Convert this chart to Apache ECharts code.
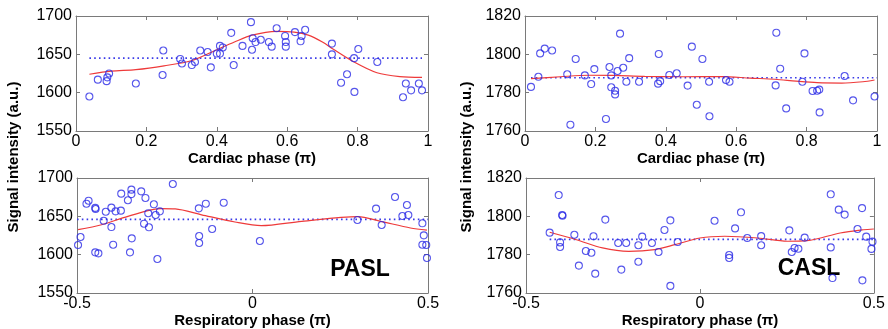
<!DOCTYPE html>
<html>
<head>
<meta charset="utf-8">
<script src="https://cdn.jsdelivr.net/npm/echarts@6/dist/echarts.min.js"></script>
<style>html,body{margin:0;padding:0;background:#fff;}#c{width:888px;height:329px;}</style>
</head>
<body>
<div id="c"></div>
<script>
// ---- Data ----
const cardiacTicks = [0, 0.2, 0.4, 0.6, 0.8, 1];
const respTicks = [-0.5, 0, 0.5];

// PASL cardiac
const paslCardX = [0.038,0.062,0.087,0.089,0.094,0.170,0.246,0.248,0.296,0.301,0.329,0.338,0.353,0.374,0.383,0.400,0.409,0.409,0.417,0.441,0.448,0.473,0.497,0.500,0.502,0.510,0.525,0.548,0.556,0.570,0.594,0.596,0.596,0.622,0.638,0.641,0.651,0.727,0.727,0.753,0.770,0.790,0.791,0.802,0.856,0.929,0.937,0.952,0.974,0.983];
const paslCardY = [1595,1617,1615,1620,1625,1612,1623,1655,1644,1638,1636,1640,1655,1653,1633,1651,1651,1661,1659,1678,1636,1661,1692,1656,1671,1666,1669,1666,1660,1684,1674,1666,1660,1679,1667,1674,1682,1664,1650,1613,1624,1645,1601,1657,1640,1594,1612,1603,1612,1603];
const paslCardFitX = [0.038,0.10,0.17,0.25,0.33,0.40,0.45,0.50,0.57,0.62,0.66,0.70,0.73,0.79,0.855,0.92,0.983];
const paslCardFitY = [1624,1628,1630,1635,1642,1656,1666,1675,1680,1679,1675,1666,1657,1640,1626,1621,1620];
const paslCardMeanX = [0.038, 0.983];
const paslCardMeanY = [1645, 1645];

// CASL cardiac
const caslCardX = [0.017,0.038,0.043,0.056,0.077,0.120,0.129,0.144,0.170,0.188,0.197,0.230,0.240,0.245,0.245,0.256,0.256,0.263,0.270,0.279,0.288,0.296,0.324,0.378,0.380,0.384,0.410,0.431,0.462,0.474,0.488,0.504,0.523,0.524,0.571,0.581,0.712,0.714,0.725,0.742,0.788,0.794,0.817,0.830,0.836,0.837,0.908,0.932,0.993];
const caslCardY = [1783,1788.3,1800.5,1803,1802,1789.6,1763.3,1797.6,1789,1784.5,1792.3,1766.3,1793.4,1789,1782.8,1781,1779.1,1791.3,1810.8,1793,1785.7,1798,1785.7,1784.7,1800.2,1786,1789.2,1790.1,1783.7,1804,1773.7,1797.6,1785.7,1767.7,1786.6,1785.7,1783.8,1811.3,1792.5,1771.8,1785.7,1800.5,1780.9,1781,1781.6,1769.7,1788.7,1776,1778];
const caslCardFitX = [0.017,0.10,0.18,0.25,0.34,0.45,0.56,0.64,0.71,0.77,0.83,0.90,0.96,0.993];
const caslCardFitY = [1787.3,1788.3,1789.1,1789.0,1788.5,1788.3,1788.4,1787.6,1787.0,1786.0,1785.2,1785.0,1785.7,1786.6];
const caslCardMeanX = [0.017, 1.0];
const caslCardMeanY = [1787.8, 1787.8];

// PASL respiratory
const paslRespX = [-0.497,-0.490,-0.473,-0.467,-0.448,-0.447,-0.448,-0.439,-0.424,-0.418,-0.402,-0.402,-0.397,-0.390,-0.375,-0.374,-0.355,-0.349,-0.345,-0.345,-0.344,-0.317,-0.309,-0.305,-0.297,-0.295,-0.281,-0.276,-0.271,-0.264,-0.227,-0.153,-0.152,-0.152,-0.133,-0.115,-0.082,0.021,0.299,0.352,0.368,0.406,0.427,0.440,0.444,0.484,0.488,0.484,0.495,0.497];
const paslRespY = [1612.6,1623,1666.5,1670.4,1661,1659.6,1603,1601.7,1644.3,1656,1661.3,1636,1613,1656.5,1657.4,1679.6,1671,1603,1684.8,1679,1621.3,1682.6,1640.4,1674,1654,1635.7,1665.7,1651.7,1594.3,1656.5,1692.2,1660.4,1624.3,1615.2,1666.5,1633.5,1667.8,1617.8,1645.2,1660,1638.7,1675.2,1650.4,1664.8,1651.7,1640.9,1625.2,1613,1612.6,1595.7];
const paslRespFitX = [-0.497,-0.430,-0.355,-0.260,-0.220,-0.145,-0.050,0.025,0.140,0.300,0.365,0.450,0.497];
const paslRespFitY = [1632.6,1639,1650,1660,1659.6,1652,1642.6,1637.8,1643.5,1649.5,1643.5,1634.8,1632];
const paslRespMeanX = [-0.5, 0.5];
const paslRespMeanY = [1646, 1646];

// CASL respiratory
const caslRespX = [-0.432,-0.406,-0.402,-0.402,-0.396,-0.395,-0.361,-0.348,-0.328,-0.312,-0.306,-0.301,-0.272,-0.235,-0.226,-0.212,-0.177,-0.177,-0.166,-0.138,-0.119,-0.102,-0.085,-0.085,-0.064,0.042,0.084,0.084,0.101,0.118,0.136,0.176,0.176,0.257,0.264,0.272,0.283,0.301,0.376,0.376,0.381,0.399,0.416,0.453,0.466,0.467,0.478,0.496,0.493];
const caslRespY = [1791.5,1811.1,1786.4,1784,1800.7,1800.3,1790.4,1774.3,1781.9,1781,1789.6,1770.1,1798.3,1786.1,1772.2,1786.1,1784.9,1776.3,1789.4,1786.1,1781.4,1792.9,1797.9,1763.7,1786.6,1797.7,1779.8,1778.3,1793.7,1802.1,1788.7,1789.7,1784.9,1792.7,1781.4,1783.5,1783.1,1788.9,1811.5,1783.8,1767.8,1803.5,1800.9,1793.4,1804.3,1766.6,1789.4,1786.8,1783];
const caslRespFitX = [-0.432,-0.355,-0.280,-0.205,-0.130,-0.072,0.000,0.071,0.166,0.251,0.308,0.403,0.470,0.500];
const caslRespFitY = [1791.7,1787.8,1783.5,1781.7,1782.6,1785.2,1788.7,1789.6,1788.7,1787,1787.3,1791.3,1793,1793.4];
const caslRespMeanX = [-0.432, 0.5];
const caslRespMeanY = [1788, 1788];

const xTitles = ['Cardiac phase (\u03c0)', 'Cardiac phase (\u03c0)', 'Respiratory phase (\u03c0)', 'Respiratory phase (\u03c0)'];
const yLabel = 'Signal intensity (a.u.)';
const panelLabels = ['PASL', 'CASL'];

// ---- Build ----
const zip = (a, b) => a.map((v, i) => [v, b[i]]);
const FONT = 'Liberation Sans, Arial, sans-serif';
const frame = '#7a7a7a';
const plain = v => String(v);

const grids = [
  {left: 76, top: 16, width: 352, height: 115},
  {left: 525, top: 16, width: 352, height: 115},
  {left: 77, top: 178, width: 351, height: 115},
  {left: 526, top: 178, width: 351, height: 115}
];
const xRanges = [
  {min: 0, max: 1, interval: 0.2},
  {min: 0, max: 1, interval: 0.2},
  {min: -0.5, max: 0.5, interval: 0.5},
  {min: -0.5, max: 0.5, interval: 0.5}
];
const yRanges = [
  {min: 1550, max: 1700, interval: 50},
  {min: 1760, max: 1820, interval: 20},
  {min: 1550, max: 1700, interval: 50},
  {min: 1760, max: 1820, interval: 20}
];
const nameGaps = [20, 20, 18, 18];

const xAxes = [], yAxes = [], series = [];
grids.forEach((g, i) => {
  xAxes.push({
    type: 'value', gridIndex: i, position: 'bottom', ...xRanges[i],
    axisLine: {show: true, onZero: false, lineStyle: {color: frame, width: 1}},
    axisTick: {show: true, inside: true, length: 4, lineStyle: {color: frame}},
    axisLabel: {color: '#000', fontSize: 16, fontFamily: FONT, margin: 3, formatter: plain},
    splitLine: {show: false},
    name: xTitles[i], nameLocation: 'middle', nameGap: nameGaps[i],
    nameTextStyle: {color: '#000', fontSize: 15, fontWeight: 'bold', fontFamily: FONT}
  });
  xAxes.push({
    type: 'value', gridIndex: i, position: 'top', ...xRanges[i],
    axisLine: {show: true, onZero: false, lineStyle: {color: frame, width: 1}},
    axisTick: {show: true, inside: true, length: 4, lineStyle: {color: frame}},
    axisLabel: {show: false}, splitLine: {show: false}
  });
  yAxes.push({
    type: 'value', gridIndex: i, position: 'left', ...yRanges[i],
    axisLine: {show: true, onZero: false, lineStyle: {color: frame, width: 1}},
    axisTick: {show: true, inside: true, length: 4, lineStyle: {color: frame}},
    axisLabel: {color: '#000', fontSize: 16, fontFamily: FONT, margin: 4, formatter: plain},
    splitLine: {show: false}
  });
  yAxes.push({
    type: 'value', gridIndex: i, position: 'right', ...yRanges[i],
    axisLine: {show: true, onZero: false, lineStyle: {color: frame, width: 1}},
    axisTick: {show: true, inside: true, length: 4, lineStyle: {color: frame}},
    axisLabel: {show: false}, splitLine: {show: false}
  });
});

const sets = [
  [paslCardX, paslCardY, paslCardFitX, paslCardFitY, paslCardMeanX, paslCardMeanY],
  [caslCardX, caslCardY, caslCardFitX, caslCardFitY, caslCardMeanX, caslCardMeanY],
  [paslRespX, paslRespY, paslRespFitX, paslRespFitY, paslRespMeanX, paslRespMeanY],
  [caslRespX, caslRespY, caslRespFitX, caslRespFitY, caslRespMeanX, caslRespMeanY]
];
sets.forEach((s, i) => {
  const xi = i * 2, yi = i * 2;
  series.push({
    type: 'line', xAxisIndex: xi, yAxisIndex: yi, data: zip(s[4], s[5]),
    symbol: 'none', lineStyle: {color: '#3a3ae8', width: 1.6, type: [1.6, 3.2]}, silent: true, z: 2
  });
  series.push({
    type: 'line', xAxisIndex: xi, yAxisIndex: yi, data: zip(s[2], s[3]),
    symbol: 'none', smooth: 0.3, lineStyle: {color: '#ee3a3a', width: 1.2}, silent: true, z: 3
  });
  series.push({
    type: 'scatter', xAxisIndex: xi, yAxisIndex: yi, data: zip(s[0], s[1]),
    symbol: 'circle', symbolSize: 7,
    itemStyle: {color: 'rgba(0,0,0,0)', borderColor: '#2a2ae6', borderWidth: 1.1}, z: 4
  });
});

const chart = echarts.init(document.getElementById('c'), null, {renderer: 'canvas'});
chart.setOption({
  animation: false,
  backgroundColor: '#fff',
  grid: grids,
  xAxis: xAxes,
  yAxis: yAxes,
  series: series,
  graphic: [
    {type: 'text', x: 14, y: 157, rotation: Math.PI / 2,
     style: {text: yLabel, font: 'bold 15px ' + FONT, fill: '#000', textAlign: 'center', textVerticalAlign: 'middle'}},
    {type: 'text', x: 467, y: 157, rotation: Math.PI / 2,
     style: {text: yLabel, font: 'bold 15px ' + FONT, fill: '#000', textAlign: 'center', textVerticalAlign: 'middle'}},
    {type: 'text', x: 360, y: 270,
     style: {text: panelLabels[0], font: 'bold 23px ' + FONT, fill: '#000', textAlign: 'center', textVerticalAlign: 'middle'}},
    {type: 'text', x: 809, y: 269,
     style: {text: panelLabels[1], font: 'bold 23px ' + FONT, fill: '#000', textAlign: 'center', textVerticalAlign: 'middle'}}
  ]
});
</script>
</body>
</html>
